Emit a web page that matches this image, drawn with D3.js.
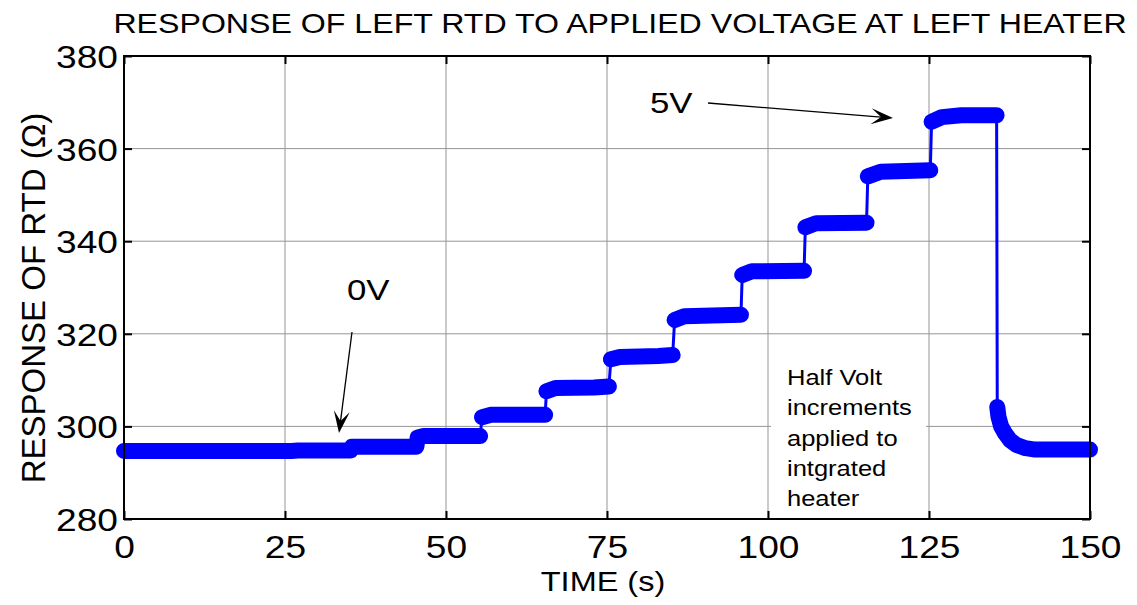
<!DOCTYPE html>
<html>
<head>
<meta charset="utf-8">
<script src="https://cdn.jsdelivr.net/npm/d3@7"></script>
<style>
  html, body { margin: 0; padding: 0; background: #fff; }
  svg { display: block; font-family: "Liberation Sans", Arial, Helvetica, sans-serif; }
</style>
</head>
<body>
<svg id="chart" width="1137" height="605"></svg>
<script>
// RTD resistance trace, sampled at the plateau corners and along the cool-down tail
const timeS = [
  0, 26, 27, 35.2,
  35.4, 45.4,
  45.6, 46.5, 55.3,
  55.6, 57, 65.4,
  65.6, 67, 73, 75.3,
  75.6, 77, 83, 85.2,
  85.5, 87, 95.8,
  96.0, 97.5, 105.6,
  105.8, 107.5, 115.3,
  115.5, 117.5, 125.2,
  125.4, 127, 130, 135.5,
  135.6, 135.8, 136.2, 136.8, 137.6, 138.6, 140, 141.5, 150
];
const rtdOhm = [
  294.7, 294.7, 294.8, 294.8,
  295.6, 295.6,
  297.6, 297.9, 297.9,
  302.0, 302.5, 302.5,
  307.6, 308.3, 308.4, 308.6,
  314.5, 315.0, 315.2, 315.4,
  323.0, 323.8, 324.1,
  332.7, 333.5, 333.6,
  343.0, 343.9, 344.0,
  354.0, 355.0, 355.3,
  365.8, 366.8, 367.2, 367.2,
  304.2, 302.0, 300.0, 298.5, 297.0, 296.0, 295.3, 295.0, 295.0
];

const xTicks = [0, 25, 50, 75, 100, 125, 150];
const yTicks = [280, 300, 320, 340, 360, 380];

const titleText = "RESPONSE OF LEFT RTD TO APPLIED VOLTAGE AT LEFT HEATER";
const xLabelText = "TIME (s)";
const yLabelText = "RESPONSE OF RTD (\u03A9)";
const noteLines = ["Half Volt", "increments", "applied to", "intgrated", "heater"];

// ---- layout ----
const plotL = 124, plotR = 1090, plotT = 56, plotB = 519;
const stretch = 1.16;   // horizontal glyph stretch used for all horizontal text

const svg = d3.select("#chart");
const x = d3.scaleLinear().domain([0, 150]).range([plotL, plotR]);
const y = d3.scaleLinear().domain([280, 380]).range([plotB, plotT]);

// grid
const grid = svg.append("g").attr("stroke", "#959595").attr("stroke-width", 1);
grid.selectAll("line.v").data(xTicks.slice(1, -1)).join("line").attr("class", "v")
  .attr("x1", d => x(d)).attr("x2", d => x(d)).attr("y1", plotT).attr("y2", plotB);
grid.selectAll("line.h").data(yTicks.slice(1, -1)).join("line").attr("class", "h")
  .attr("x1", plotL).attr("x2", plotR).attr("y1", d => y(d)).attr("y2", d => y(d));

// note box covering the grid behind the text
svg.append("rect").attr("x", 771).attr("y", 358).attr("width", 155).attr("height", 158)
  .attr("fill", "#fff");

// data
const pts = timeS.map((t, i) => [t, rtdOhm[i]]);
const line = d3.line().x(d => x(d[0])).y(d => y(d[1]));

// thin connecting line through every sample
svg.append("path").attr("d", line(pts))
  .attr("fill", "none").attr("stroke", "#0000ff").attr("stroke-width", 3)
  .attr("stroke-linejoin", "round");

// dense circular markers merge into a thick band: draw each run between jumps
const runs = [];
let cur = [pts[0]];
for (let i = 1; i < pts.length; i++) {
  if (Math.abs(pts[i][1] - pts[i - 1][1]) > 3) { runs.push(cur); cur = []; }
  cur.push(pts[i]);
}
runs.push(cur);
svg.append("g").selectAll("path").data(runs).join("path")
  .attr("d", d => line(d.length > 1 ? d : [d[0], d[0]]))
  .attr("fill", "none").attr("stroke", "#0000ff").attr("stroke-width", 16)
  .attr("stroke-linecap", "round").attr("stroke-linejoin", "round");

// axes (ticks inward on all four sides)
const fontTick = 32;
function styleAxis(g) {
  g.select(".domain").remove();
  g.selectAll(".tick line").attr("stroke", "#000").attr("stroke-width", 2);
}
const axB = svg.append("g").attr("transform", `translate(0,${plotB})`)
  .call(d3.axisBottom(x).tickValues(xTicks).tickSizeInner(-8).tickSizeOuter(0).tickPadding(0)
    .tickFormat(d3.format("d")));
styleAxis(axB);
axB.selectAll(".tick text").attr("y", 39).attr("dy", null)
  .attr("font-size", fontTick).attr("fill", "#000")
  .attr("transform", `scale(${stretch},1)`);

const axT = svg.append("g").attr("transform", `translate(0,${plotT})`)
  .call(d3.axisTop(x).tickValues(xTicks).tickSizeInner(-8).tickSizeOuter(0).tickFormat(""));
styleAxis(axT);

const axL = svg.append("g").attr("transform", `translate(${plotL},0)`)
  .call(d3.axisLeft(y).tickValues(yTicks).tickSizeInner(-8).tickSizeOuter(0)
    .tickFormat(d3.format("d")));
styleAxis(axL);
axL.selectAll(".tick text").attr("x", -6 / stretch).attr("dy", "0.36em")
  .attr("font-size", fontTick).attr("fill", "#000")
  .attr("transform", `scale(${stretch},1)`);

const axR = svg.append("g").attr("transform", `translate(${plotR},0)`)
  .call(d3.axisRight(y).tickValues(yTicks).tickSizeInner(-8).tickSizeOuter(0).tickFormat(""));
styleAxis(axR);

// frame
svg.append("rect").attr("x", plotL).attr("y", plotT)
  .attr("width", plotR - plotL).attr("height", plotB - plotT)
  .attr("fill", "none").attr("stroke", "#000").attr("stroke-width", 2);

// stretched horizontal text helper
function htext(txt, px, py, size, anchor) {
  return svg.append("text")
    .attr("transform", `translate(${px},${py}) scale(${stretch},1)`)
    .attr("text-anchor", anchor || "start")
    .attr("font-size", size).attr("fill", "#000").text(txt);
}

// title and axis labels
htext(titleText, 620, 33, 27.7, "middle");
htext(xLabelText, 603, 591, 28, "middle");
svg.append("text")
  .attr("transform", `translate(45,298) rotate(-90)`)
  .attr("text-anchor", "middle").attr("font-size", 33).attr("fill", "#000")
  .text(yLabelText);

// annotations
htext("0V", 347, 300, 30);
htext("5V", 650, 113, 30);
noteLines.forEach((s, i) => htext(s, 787, 385 + i * 30.25, 22));

function arrow(x1, y1, x2, y2) {
  const ang = Math.atan2(y2 - y1, x2 - x1);
  const L = 22, W = 8, N = 12;
  const g = svg.append("g");
  g.append("line").attr("x1", x1).attr("y1", y1)
    .attr("x2", x2 - Math.cos(ang) * N).attr("y2", y2 - Math.sin(ang) * N)
    .attr("stroke", "#000").attr("stroke-width", 1.3);
  g.append("path")
    .attr("d", `M0,0 L${-L},${-W} L${-N},0 L${-L},${W} Z`)
    .attr("transform", `translate(${x2},${y2}) rotate(${ang * 180 / Math.PI})`)
    .attr("fill", "#000");
}
arrow(352, 332, 339, 433);
arrow(708, 103, 893, 118);
</script>
</body>
</html>
